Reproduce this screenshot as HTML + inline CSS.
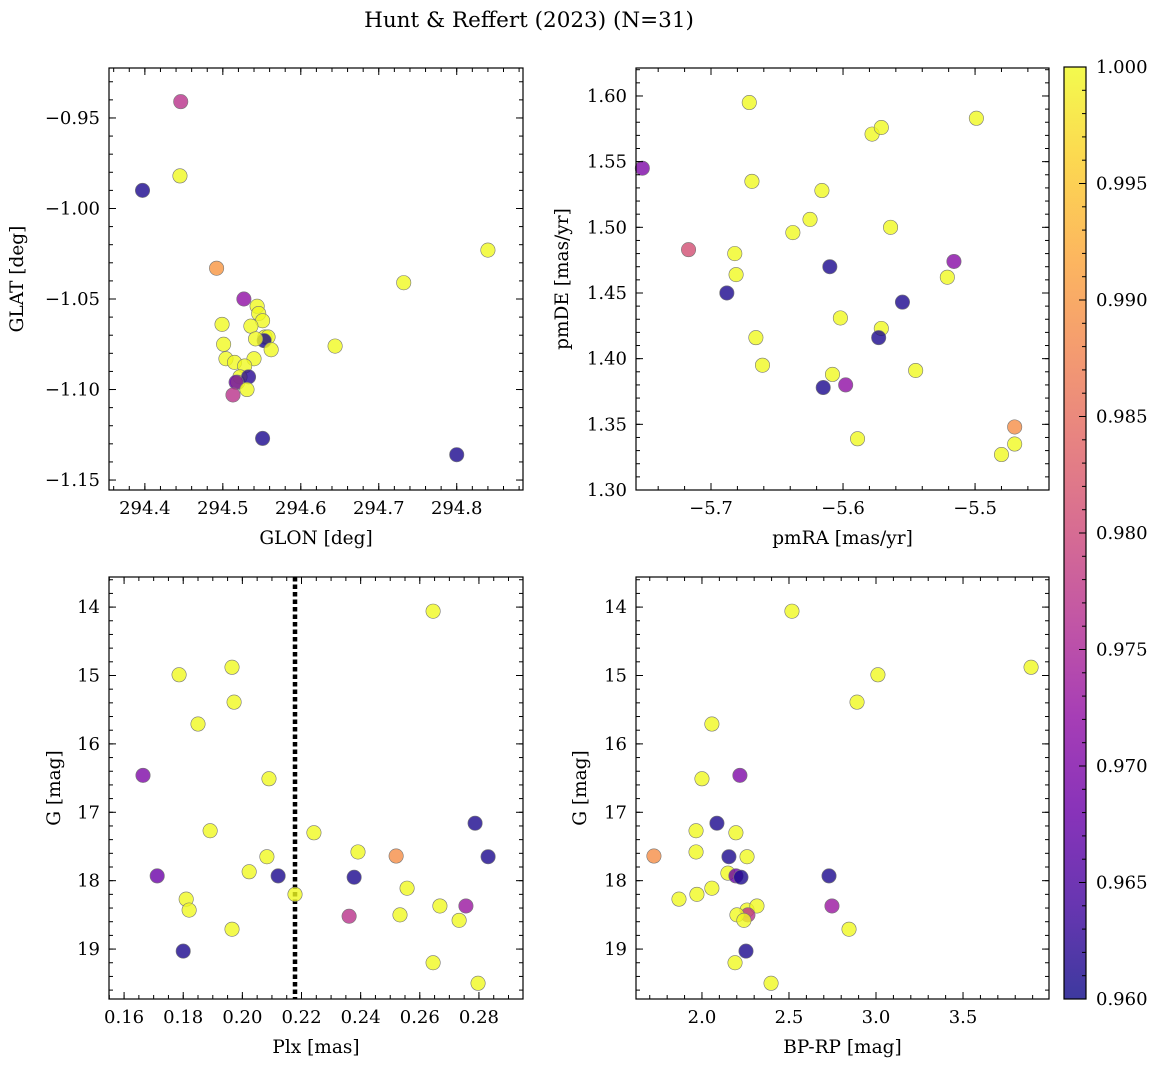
<!DOCTYPE html>
<html><head><meta charset="utf-8"><style>
body{margin:0;background:#fff}
svg text{font-family:"DejaVu Serif","Liberation Serif",serif;fill:#000}
</style></head><body>
<svg id="fig" width="1161" height="1067" xmlns="http://www.w3.org/2000/svg">
<text x="529" y="27" font-size="21.5" text-anchor="middle">Hunt &amp; Reffert (2023) (N=31)</text>
</svg>
<script>
const p1x=[294.446,294.397,294.445,294.492,294.840,294.732,294.644,294.800,294.551,294.527,294.544,294.546,294.551,294.499,294.536,294.554,294.558,294.553,294.562,294.501,294.542,294.504,294.540,294.515,294.528,294.522,294.519,294.533,294.517,294.531,294.513];
const p1y=[-0.941,-0.990,-0.982,-1.033,-1.023,-1.041,-1.076,-1.136,-1.127,-1.050,-1.054,-1.058,-1.062,-1.064,-1.065,-1.071,-1.071,-1.073,-1.078,-1.075,-1.072,-1.083,-1.083,-1.085,-1.087,-1.093,-1.096,-1.093,-1.096,-1.100,-1.103];
const p1c=[0.977,0.961,1,0.990,1,1,1,0.961,0.961,0.972,1,1,1,1,1,1,1,0.961,1,1,1,1,1,1,1,1,1,0.962,0.968,1,0.977];
const p2x=[-5.752,-5.717,-5.671,-5.669,-5.682,-5.681,-5.688,-5.666,-5.661,-5.638,-5.625,-5.616,-5.610,-5.602,-5.608,-5.615,-5.598,-5.589,-5.578,-5.571,-5.564,-5.571,-5.573,-5.555,-5.545,-5.499,-5.521,-5.516,-5.470,-5.470,-5.480];
const p2y=[1.545,1.483,1.595,1.535,1.480,1.464,1.450,1.416,1.395,1.496,1.506,1.528,1.470,1.431,1.388,1.378,1.380,1.339,1.571,1.576,1.500,1.423,1.416,1.443,1.391,1.583,1.462,1.474,1.348,1.335,1.327];
const p2c=[0.970,0.981,1,1,1,1,0.961,1,1,1,1,1,0.961,1,1,0.961,0.972,1,1,1,1,1,0.961,0.961,1,1,1,0.971,0.989,1,1];
const p3x=[0.2645,0.1786,0.1965,0.1972,0.1850,0.1664,0.2090,0.1891,0.2242,0.2391,0.2083,0.2520,0.2787,0.2831,0.1712,0.2023,0.2121,0.2378,0.2178,0.1810,0.1820,0.2557,0.2668,0.2756,0.2361,0.2533,0.2733,0.1965,0.1800,0.2645,0.2797];
const p3y=[14.06,14.99,14.88,15.39,15.71,16.46,16.51,17.27,17.30,17.58,17.65,17.64,17.16,17.65,17.93,17.87,17.93,17.95,18.20,18.27,18.43,18.11,18.37,18.37,18.52,18.50,18.58,18.71,19.03,19.20,19.50];
const p3c=[1,1,1,1,1,0.970,1,1,1,1,1,0.989,0.961,0.961,0.968,1,0.961,0.961,1,1,1,1,1,0.973,0.977,1,1,1,0.961,1,1];
const p4x=[2.517,3.891,3.011,2.891,2.057,2.218,2.000,2.086,1.966,2.195,1.966,1.724,2.155,2.259,2.149,2.195,2.224,2.730,2.057,1.971,1.868,2.259,2.316,2.747,2.264,2.201,2.241,2.845,2.253,2.190,2.397];
const p4y=[14.06,14.88,14.99,15.39,15.71,16.46,16.51,17.16,17.27,17.30,17.58,17.64,17.65,17.65,17.89,17.93,17.95,17.93,18.11,18.20,18.27,18.43,18.37,18.37,18.50,18.50,18.58,18.71,19.03,19.20,19.50];
const p4c=[1,1,1,1,1,0.970,1,0.961,1,1,1,0.989,0.961,1,1,0.968,0.961,0.961,1,1,1,1,1,0.973,0.977,1,1,1,0.961,1,1];
const plxLine=0.2178;
const cbTicks=[0.960,0.965,0.970,0.975,0.980,0.985,0.990,0.995,1.000];

const NS="http://www.w3.org/2000/svg";
const svg=document.getElementById('fig');
function mk(tag,attrs,parent){const e=document.createElementNS(NS,tag);for(const k in attrs)e.setAttribute(k,attrs[k]);(parent||svg).appendChild(e);return e;}
const stops=["#0d0887","#41049d","#6a00a8","#8f0da4","#b12a90","#cc4778","#e16462","#f2844b","#fca636","#fcce25","#f0f921"];
function hex(h){return [1,3,5].map(i=>parseInt(h.substr(i,2),16));}
function plasma(t){t=Math.max(0,Math.min(1,t));const f=t*10,i=Math.min(9,Math.floor(f)),u=f-i;const a=hex(stops[i]),b=hex(stops[i+1]);return 'rgb('+a.map((v,k)=>Math.round(v+(b[k]-v)*u)).join(',')+')';}
function cnorm(v){return (v-0.96)/0.04;}
const TF=18,LF=18.5;

function panel(o){
  const g=mk('g',{});
  
  
  const sx=v=>o.L+(v-o.x0)/(o.x1-o.x0)*(o.R-o.L);
  const sy=v=>o.B-(v-o.y0)/(o.y1-o.y0)*(o.B-o.T);
  if(o.line!==undefined){const ln=mk('line',{x1:sx(o.line),x2:sx(o.line),y1:o.T,y2:o.B,stroke:'#000','stroke-width':4.5,'stroke-dasharray':'4.5 3'},g);
    }
  for(let i=0;i<o.xs.length;i++){
    const c=mk('circle',{cx:sx(o.xs[i]),cy:sy(o.ys[i]),r:7.2,fill:plasma(cnorm(o.cs[i])),'fill-opacity':0.8,stroke:'#777','stroke-width':0.6},g);
    
    
  }
  const lo=Math.min(o.y0,o.y1),hi=Math.max(o.y0,o.y1);
  const tk=(v,maj,isX)=>{const len=maj?7:4;
    if(isX){const x=sx(v);mk('line',{x1:x,x2:x,y1:o.B,y2:o.B-len,stroke:'#000','stroke-width':1},g);mk('line',{x1:x,x2:x,y1:o.T,y2:o.T+len,stroke:'#000','stroke-width':1},g);}
    else{const y=sy(v);mk('line',{x1:o.L,x2:o.L+len,y1:y,y2:y,stroke:'#000','stroke-width':1},g);mk('line',{x1:o.R,x2:o.R-len,y1:y,y2:y,stroke:'#000','stroke-width':1},g);}};
  const xl=Math.min(o.x0,o.x1),xh=Math.max(o.x0,o.x1);
  for(let v=Math.ceil(xl/o.xmin-1e-6)*o.xmin;v<=xh+1e-9;v+=o.xmin)tk(v,false,true);
  for(let v=Math.ceil(lo/o.ymin-1e-6)*o.ymin;v<=hi+1e-9;v+=o.ymin)tk(v,false,false);
  o.xt.forEach(v=>{tk(v,true,true);const t=mk('text',{x:sx(v),y:o.B+24,'font-size':TF,'text-anchor':'middle'},g);t.textContent=o.xf(v).replace('-','\u2212');});
  o.yt.forEach(v=>{tk(v,true,false);const t=mk('text',{x:o.L-9,y:sy(v)+6,'font-size':TF,'text-anchor':'end'},g);t.textContent=o.yf(v).replace('-','\u2212');});
  mk('rect',{x:o.L,y:o.T,width:o.R-o.L,height:o.B-o.T,fill:'none',stroke:'#000','stroke-width':1.2},g);
  const xt=mk('text',{x:(o.L+o.R)/2,y:o.B+54,'font-size':LF,'text-anchor':'middle'},g);xt.textContent=o.xlab;
  
  const yy=(o.T+o.B)/2;const yt=mk('text',{x:o.ylx,y:yy,'font-size':LF,'text-anchor':'middle',transform:`rotate(-90 ${o.ylx} ${yy})`},g);yt.textContent=o.ylab;
  
}
const f=(d)=>v=>v.toFixed(d);
panel({name:'glon-glat-panel',L:109,R:523,T:68,B:490,x0:294.354,x1:294.885,y0:-1.1555,y1:-0.9224,xs:p1x,ys:p1y,cs:p1c,xt:[294.4,294.5,294.6,294.7,294.8],yt:[-1.15,-1.10,-1.05,-1.00,-0.95],xmin:0.02,ymin:0.01,xf:f(1),yf:f(2),xlab:'GLON [deg]',ylab:'GLAT [deg]',ylx:23});
panel({name:'pm-panel',L:636,R:1049,T:68,B:490,x0:-5.7568,x1:-5.444,y0:1.30,y1:1.6213,xs:p2x,ys:p2y,cs:p2c,xt:[-5.7,-5.6,-5.5],yt:[1.30,1.35,1.40,1.45,1.50,1.55,1.60],xmin:0.02,ymin:0.01,xf:f(1),yf:f(2),xlab:'pmRA [mas/yr]',ylab:'pmDE [mas/yr]',ylx:568});
panel({name:'plx-g-panel',L:109,R:523,T:577,B:999,x0:0.1549,x1:0.2949,y0:19.73,y1:13.56,xs:p3x,ys:p3y,cs:p3c,xt:[0.16,0.18,0.20,0.22,0.24,0.26,0.28],yt:[14,15,16,17,18,19],xmin:0.005,ymin:0.2,xf:f(2),yf:f(0),xlab:'Plx [mas]',ylab:'G [mag]',ylx:60,line:plxLine});
panel({name:'cmd-panel',L:636,R:1049,T:577,B:999,x0:1.621,x1:3.994,y0:19.73,y1:13.56,xs:p4x,ys:p4y,cs:p4c,xt:[2.0,2.5,3.0,3.5],yt:[14,15,16,17,18,19],xmin:0.1,ymin:0.2,xf:f(1),yf:f(0),xlab:'BP-RP [mag]',ylab:'G [mag]',ylx:586});

const cb=mk('g',{});


const defs=mk('defs',{},cb);const lg=mk('linearGradient',{id:'pl',x1:0,y1:1,x2:0,y2:0},defs);
stops.forEach((s,i)=>mk('stop',{offset:i/10,'stop-color':s,'stop-opacity':0.8},lg));
const cT=67,cB=999,cL=1064,cR=1086;
mk('rect',{x:cL,y:cT,width:cR-cL,height:cB-cT,fill:'url(#pl)',stroke:'#000','stroke-width':1.2},cb);
const cy=v=>cB-(v-0.96)/0.04*(cB-cT);
for(let i=0;i<=40;i++){const v=0.96+i*0.001;const y=cy(v);const maj=i%5==0;mk('line',{x1:cR,x2:cR-(maj?7:4),y1:y,y2:y,stroke:'#000','stroke-width':1},cb);}
cbTicks.forEach(v=>{const t=mk('text',{x:cR+10,y:cy(v)+6,'font-size':TF},cb);t.textContent=v.toFixed(3);});
</script>
</body></html>
